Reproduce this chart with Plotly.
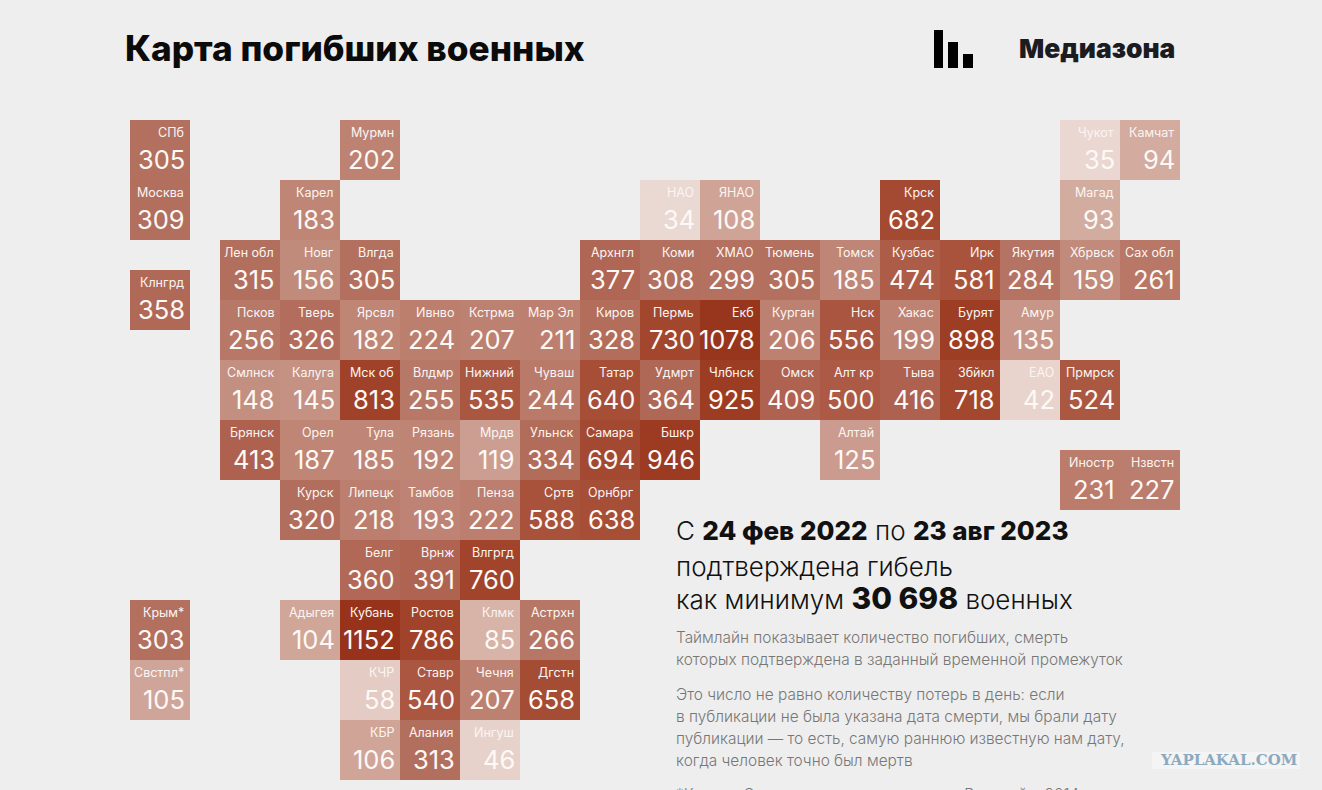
import plotly.graph_objects as go

W, H = 1322, 790
CELL = 60
GRID_LEFT, GRID_TOP = 220, 120

labels = ["СПб", "Мурмн", "Чукот", "Камчат",
          "Москва", "Карел", "НАО", "ЯНАО", "Крск", "Магад",
          "Лен обл", "Новг", "Влгда", "Архнгл", "Коми", "ХМАО", "Тюмень", "Томск", "Кузбас", "Ирк", "Якутия", "Хбрвск", "Сах обл",
          "Клнгрд",
          "Псков", "Тверь", "Ярсвл", "Ивнво", "Кстрма", "Мар Эл", "Киров", "Пермь", "Екб", "Курган", "Нск", "Хакас", "Бурят", "Амур",
          "Смлнск", "Калуга", "Мск об", "Влдмр", "Нижний", "Чуваш", "Татар", "Удмрт", "Члбнск", "Омск", "Алт кр", "Тыва", "Збйкл", "ЕАО", "Прмрск",
          "Брянск", "Орел", "Тула", "Рязань", "Мрдв", "Ульнск", "Самара", "Бшкр", "Алтай",
          "Иностр", "Нзвстн",
          "Курск", "Липецк", "Тамбов", "Пенза", "Сртв", "Орнбрг",
          "Белг", "Врнж", "Влгргд",
          "Крым*", "Адыгея", "Кубань", "Ростов", "Клмк", "Астрхн",
          "Свстпл*", "КЧР", "Ставр", "Чечня", "Дгстн",
          "КБР", "Алания", "Ингуш"]
values = [305, 202, 35, 94,
          309, 183, 34, 108, 682, 93,
          315, 156, 305, 377, 308, 299, 305, 185, 474, 581, 284, 159, 261,
          358,
          256, 326, 182, 224, 207, 211, 328, 730, 1078, 206, 556, 199, 898, 135,
          148, 145, 813, 255, 535, 244, 640, 364, 925, 409, 500, 416, 718, 42, 524,
          413, 187, 185, 192, 119, 334, 694, 946, 125,
          231, 227,
          320, 218, 193, 222, 588, 638,
          360, 391, 760,
          303, 104, 1152, 786, 85, 266,
          105, 58, 540, 207, 658,
          106, 313, 46]
# tile grid position of every region, in cells
cols = [-1.5, 2, 14, 15,
        -1.5, 1, 7, 8, 11, 14,
        0, 1, 2, 6, 7, 8, 9, 10, 11, 12, 13, 14, 15,
        -1.5,
        0, 1, 2, 3, 4, 5, 6, 7, 8, 9, 10, 11, 12, 13,
        0, 1, 2, 3, 4, 5, 6, 7, 8, 9, 10, 11, 12, 13, 14,
        0, 1, 2, 3, 4, 5, 6, 7, 10,
        14, 15,
        1, 2, 3, 4, 5, 6,
        2, 3, 4,
        -1.5, 1, 2, 3, 4, 5,
        -1.5, 2, 3, 4, 5,
        2, 3, 4]
rows = [0, 0, 0, 0,
        1, 1, 1, 1, 1, 1,
        2, 2, 2, 2, 2, 2, 2, 2, 2, 2, 2, 2, 2,
        2.5,
        3, 3, 3, 3, 3, 3, 3, 3, 3, 3, 3, 3, 3, 3,
        4, 4, 4, 4, 4, 4, 4, 4, 4, 4, 4, 4, 4, 4, 4,
        5, 5, 5, 5, 5, 5, 5, 5, 5,
        5.5, 5.5,
        6, 6, 6, 6, 6, 6,
        7, 7, 7,
        8, 8, 8, 8, 8, 8,
        9, 9, 9, 9, 9,
        10, 10, 10]

color_stops = [(34, "#ead8d2"), (58, "#e4cbc3"), (94, "#d3ab9f"), (156, "#c18b7c"),
               (210, "#bd8070"), (305, "#b3705f"), (420, "#ae604d"), (580, "#a9533c"),
               (730, "#a2462d"), (900, "#9d3d24"), (1152, "#96331a")]
vmin, vmax = color_stops[0][0], color_stops[-1][0]
colorscale = [[(v - vmin) / (vmax - vmin), c] for v, c in color_stops]

title = "Карта погибших военных"
brand = "Медиазона"
BOLD = '<span style="font-weight:800">%s</span>'
BIG = '<span style="font-weight:800;font-size:30px">%s</span>'
lead_lines = ["С " + BOLD % "24 фев 2022" + " по " + BOLD % "23 авг 2023",
              "подтверждена гибель",
              "как минимум " + BIG % "30 698" + " военных"]
note_lines = ["Таймлайн показывает количество погибших, смерть",
              "которых подтверждена в заданный временной промежуток",
              "Это число не равно количеству потерь в день: если",
              "в публикации не была указана дата смерти, мы брали дату",
              "публикации — то есть, самую раннюю известную нам дату,",
              "когда человек точно был мертв",
              "*Крым и Севастополь аннексированы Россией в 2014"]
lead_y = [530, 566, 598]
note_y = [637, 659, 694, 716, 738, 760, 794]

fig = go.Figure(go.Bar(
    x=cols, y=[1] * len(values), base=rows, width=1, offset=0,
    marker=dict(color=values, coloraxis="coloraxis", line_width=0),
    customdata=labels,
    hovertemplate="%{customdata}: %{marker.color}<extra></extra>",
))

annotations = []
for label, value, c, r in zip(labels, values, cols, rows):
    annotations.append(dict(x=c + 1, y=r + 0.205, text=label, xref="x", yref="y", xanchor="right",
                            yanchor="middle", xshift=-4, showarrow=False,
                            font=dict(family="Inter", size=12.5, color="#fbf5f2")))
    annotations.append(dict(x=c + 1, y=r + 0.665, text=str(value), xref="x", yref="y", xanchor="right",
                            yanchor="middle", xshift=-3.5, showarrow=False,
                            font=dict(family="Inter", size=25.5, color="#fdf9f6", weight=400)))


def page_text(x, y, text, size, color, weight=400, family="Inter"):
    annotations.append(dict(x=x / W, y=1 - y / H, text=text, xref="paper", yref="paper", xanchor="left",
                            yanchor="middle", showarrow=False, align="left",
                            font=dict(family=family, size=size, color=color, weight=weight)))


page_text(123, 48, title, 35.2, "#0b0b0b", 800)
page_text(1017, 48, brand, 26.4, "#1b1b22", 900)
for line, y in zip(lead_lines, lead_y):
    page_text(674, y, line, 26, "#111111", 300)
for line, y in zip(note_lines, note_y):
    page_text(674, y, line, 15.4, "#777777", 300)

# watermark
annotations.append(dict(x=1228 / W, y=1 - 760 / H, text="<b>YAPLAKAL.COM</b>", xref="paper", yref="paper",
                        xanchor="center", yanchor="middle", showarrow=False,
                        font=dict(family="DejaVu Serif", size=15, color="#8baac0")))

shapes = [dict(type="rect", xref="paper", yref="paper", x0=x0 / W, x1=x1 / W, y0=1 - y1 / H, y1=1 - y0 / H,
               fillcolor=fill, line_width=0, layer="below")
          for x0, x1, y0, y1, fill in [(934, 943, 30, 68, "#000000"), (948, 958, 42, 68, "#000000"),
                                       (963, 973, 54, 68, "#000000"), (1152, 1300, 752, 769, "#f4f4f4")]]

fig.update_layout(
    width=W, height=H, margin=dict(l=0, r=0, t=0, b=0),
    paper_bgcolor="#eeeeee", plot_bgcolor="#eeeeee", showlegend=False,
    xaxis=dict(range=[-GRID_LEFT / CELL, (W - GRID_LEFT) / CELL], visible=False, fixedrange=True),
    yaxis=dict(range=[(H - GRID_TOP) / CELL, -GRID_TOP / CELL], visible=False, fixedrange=True),
    coloraxis=dict(colorscale=colorscale, cmin=vmin, cmax=vmax, showscale=False),
    annotations=annotations, shapes=shapes,
)

# page body margin would push the figure 8px off the window edge
fig.write_html("out.html", config={"displayModeBar": False},
               post_script="document.body.style.margin='0';document.body.style.overflow='hidden';")
